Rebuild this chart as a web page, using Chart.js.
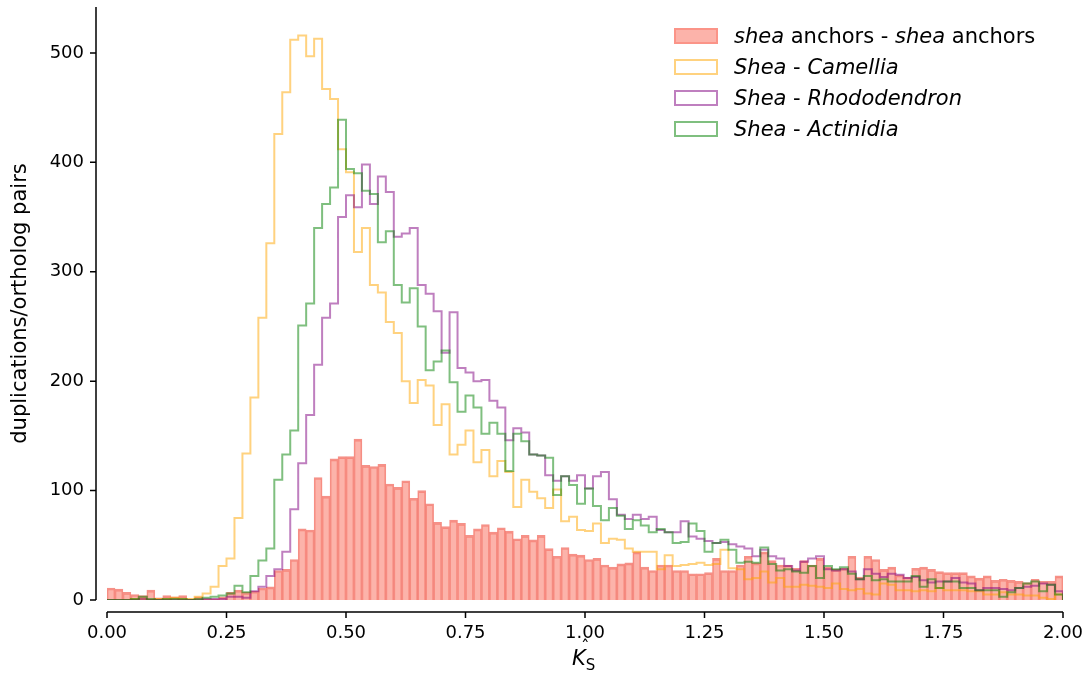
<!DOCTYPE html>
<html>
<head>
<meta charset="utf-8">
<title>Ks distribution</title>
<script src="https://cdn.jsdelivr.net/npm/chart.js@4.4.1/dist/chart.umd.min.js"></script>
<style>
  html, body { margin: 0; padding: 0; background: #fff; }
  #wrap { position: relative; width: 1089px; height: 687px; font-family: 'DejaVu Sans', sans-serif; color: #000; }
  #ksChart { position: absolute; left: 0; top: 0; }
  .legend { position: absolute; left: 674px; top: 20px; font-size: 21px; }
  .legend .row { display: flex; align-items: center; height: 31.2px; white-space: nowrap; }
  .legend .key { width: 44px; height: 16px; margin-right: 16px; box-sizing: border-box; border: 2px solid; background: #fff; }
  .xlabel { position: absolute; left: 572px; top: 646px; font-size: 21px; }
  .xlabel .k { font-style: italic; }
  .xlabel .s { font-size: 15px; position: relative; top: 5px; }
  .xlabel .hat { position: absolute; left: 9px; top: -9px; font-size: 17px; }
</style>
</head>
<body>
<div id="wrap">
  <canvas id="ksChart" width="1089" height="687"></canvas>
  <div class="legend">
    <div class="row"><span class="key" style="background: rgba(250,128,114,0.6); border-color: rgba(250,128,114,0.6);"></span><span><i>shea</i> anchors - <i>shea</i> anchors</span></div>
    <div class="row"><span class="key" style="border-color: rgba(255,165,0,0.5);"></span><span><i>Shea</i> - <i>Camellia</i></span></div>
    <div class="row"><span class="key" style="border-color: rgba(128,0,128,0.5);"></span><span><i>Shea</i> - <i>Rhododendron</i></span></div>
    <div class="row"><span class="key" style="border-color: rgba(0,128,0,0.5);"></span><span><i>Shea</i> - <i>Actinidia</i></span></div>
  </div>
  <div class="xlabel"><span class="k">K</span><span class="s">S</span><span class="hat">ˆ</span></div>
</div>
<script>
// Ks histogram, 120 bins over [0, 2]
const ksMax = 2;
const binCount = 120;
const binWidth = ksMax / binCount;

const xTicks = [0, 0.25, 0.5, 0.75, 1, 1.25, 1.5, 1.75, 2];
const yTicks = [0, 100, 200, 300, 400, 500];

// paralogous anchor pairs within shea
const anchors = [
  11, 10, 7, 5, 4, 9, 2, 4, 3, 4,
  1, 3, 1, 1, 3, 7, 9, 7, 8, 11,
  12, 27, 28, 37, 65, 64, 112, 95, 129, 131,
  131, 147, 123, 122, 124, 106, 103, 109, 93, 100,
  88, 71, 67, 73, 70, 59, 65, 69, 62, 66,
  63, 56, 59, 55, 59, 47, 40, 48, 42, 41,
  37, 38, 32, 30, 33, 34, 44, 30, 27, 32,
  32, 27, 27, 24, 24, 25, 38, 27, 27, 32,
  40, 34, 44, 36, 32, 32, 29, 36, 32, 38,
  30, 28, 29, 40, 21, 40, 37, 28, 30, 23,
  21, 29, 30, 28, 26, 25, 25, 25, 22, 20,
  22, 18, 19, 18, 17, 16, 19, 17, 17, 22
];

// orthologous pairs
const camellia = [
  0, 0, 0, 1, 1, 0, 1, 1, 2, 1,
  1, 3, 6, 12, 31, 38, 75, 134, 185, 258,
  326, 426, 464, 512, 516, 497, 513, 467, 458, 412,
  391, 318, 340, 288, 281, 254, 244, 200, 180, 201,
  196, 160, 179, 133, 142, 155, 126, 137, 113, 127,
  117, 85, 110, 99, 93, 84, 101, 72, 76, 64,
  63, 70, 52, 56, 55, 47, 44, 44, 44, 28,
  41, 31, 32, 33, 34, 32, 33, 46, 29, 28,
  19, 20, 26, 16, 20, 12, 12, 14, 13, 12,
  11, 15, 10, 9, 10, 6, 5, 15, 14, 9,
  9, 8, 9, 8, 11, 9, 9, 9, 8, 8,
  5, 5, 7, 5, 5, 4, 4, 2, 1, 5
];

const rhododendron = [
  0, 0, 0, 0, 1, 0, 0, 0, 0, 0,
  0, 0, 1, 1, 1, 3, 3, 2, 8, 12,
  22, 28, 44, 83, 125, 169, 215, 258, 271, 350,
  370, 359, 398, 362, 387, 373, 332, 335, 340, 288,
  280, 264, 226, 263, 212, 208, 200, 201, 182, 176,
  146, 157, 153, 133, 132, 114, 109, 113, 109, 114,
  102, 113, 117, 92, 78, 74, 78, 74, 76, 64,
  62, 62, 72, 58, 56, 54, 52, 53, 51, 49,
  47, 40, 46, 40, 38, 31, 27, 35, 38, 40,
  28, 27, 28, 26, 19, 28, 24, 21, 24, 23,
  20, 21, 18, 16, 17, 17, 20, 16, 15, 9,
  11, 11, 10, 9, 11, 12, 13, 15, 14, 8
];

const actinidia = [
  0, 0, 0, 1, 3, 1, 0, 1, 1, 1,
  0, 1, 2, 3, 4, 6, 13, 7, 22, 36,
  47, 110, 133, 155, 251, 271, 340, 362, 377, 439,
  394, 390, 374, 371, 327, 337, 288, 272, 285, 250,
  210, 218, 228, 199, 172, 187, 176, 152, 162, 152,
  118, 152, 145, 133, 132, 130, 96, 113, 105, 88,
  102, 86, 73, 84, 77, 65, 73, 68, 62, 65,
  62, 52, 53, 70, 63, 44, 52, 55, 46, 34,
  35, 34, 48, 33, 27, 28, 26, 25, 31, 20,
  31, 28, 30, 24, 19, 22, 18, 19, 17, 17,
  17, 22, 12, 19, 11, 17, 17, 11, 11, 9,
  9, 9, 3, 7, 11, 15, 17, 8, 14, 5
];

// bar at each bin centre
function barPoints(counts) {
  return counts.map((v, i) => ({ x: (i + 0.5) * binWidth, y: v }));
}

// outline of a step histogram: rise at 0, one step per bin, drop at ksMax
function stepPoints(counts) {
  const pts = [{ x: 0, y: 0 }];
  counts.forEach((v, i) => pts.push({ x: i * binWidth, y: v }));
  pts.push({ x: ksMax, y: counts[counts.length - 1] });
  pts.push({ x: ksMax, y: 0 });
  return pts;
}

function stepDataset(label, counts, color, order) {
  return {
    type: 'line',
    label: label,
    data: stepPoints(counts),
    // horizontal at the previous value, then vertical at the next bin edge
    stepped: 'before',
    borderColor: color,
    borderWidth: 2,
    pointRadius: 0,
    fill: false,
    order: order
  };
}

// matplotlib-style spines, pushed away from the data area
const offsetSpines = {
  id: 'offsetSpines',
  afterDraw(chart) {
    const { ctx, chartArea, scales } = chart;
    const sx = chartArea.left - 11;
    const sy = chartArea.bottom + 12;
    ctx.save();
    ctx.strokeStyle = '#000';
    ctx.lineWidth = 1.5;
    ctx.beginPath();
    ctx.moveTo(sx, chartArea.top);
    ctx.lineTo(sx, chartArea.bottom);
    ctx.moveTo(chartArea.left, sy);
    ctx.lineTo(chartArea.right, sy);
    yTicks.forEach(v => {
      const py = scales.y.getPixelForValue(v);
      ctx.moveTo(sx - 6, py);
      ctx.lineTo(sx, py);
    });
    xTicks.forEach(v => {
      const px = scales.x.getPixelForValue(v);
      ctx.moveTo(px, sy);
      ctx.lineTo(px, sy + 6);
    });
    ctx.stroke();
    ctx.restore();
  }
};

const ctx = document.getElementById('ksChart').getContext('2d');
new Chart(ctx, {
  type: 'bar',
  data: {
    datasets: [
      {
        type: 'bar',
        label: 'shea anchors - shea anchors',
        data: barPoints(anchors),
        backgroundColor: 'rgba(250,128,114,0.6)',
        borderColor: 'rgba(242,108,96,0.75)',
        borderWidth: { top: 2, left: 1, right: 1, bottom: 0 },
        borderSkipped: false,
        barPercentage: 1,
        categoryPercentage: 1,
        order: 4
      },
      stepDataset('Shea - Camellia', camellia, 'rgba(255,165,0,0.5)', 3),
      stepDataset('Shea - Rhododendron', rhododendron, 'rgba(128,0,128,0.5)', 2),
      stepDataset('Shea - Actinidia', actinidia, 'rgba(0,128,0,0.5)', 1)
    ]
  },
  options: {
    responsive: false,
    animation: false,
    devicePixelRatio: 1,
    layout: { padding: { top: 7, right: 26, left: 0, bottom: 0 } },
    plugins: {
      legend: { display: false },
      tooltip: { enabled: false }
    },
    scales: {
      x: {
        type: 'linear',
        min: 0,
        max: ksMax,
        offset: false,
        grid: { display: false, drawTicks: false },
        border: { display: false },
        afterBuildTicks: s => { s.ticks = xTicks.map(v => ({ value: v })); },
        afterFit: s => { s.height = 87; s.paddingLeft = 0; s.paddingRight = 0; },
        ticks: {
          padding: 23,
          color: '#000',
          font: { family: 'DejaVu Sans', size: 18 },
          maxRotation: 0,
          callback: v => v.toFixed(2)
        }
      },
      y: {
        min: 0,
        max: 542,
        grid: { display: false, drawTicks: false },
        border: { display: false },
        afterBuildTicks: s => { s.ticks = yTicks.map(v => ({ value: v })); },
        afterFit: s => { s.width = 107; s.paddingTop = 0; s.paddingBottom = 0; },
        ticks: {
          padding: 23,
          color: '#000',
          font: { family: 'DejaVu Sans', size: 18 }
        },
        title: {
          display: true,
          text: 'duplications/ortholog pairs',
          color: '#000',
          font: { family: 'DejaVu Sans', size: 21 },
          padding: { top: 8, bottom: 0 }
        }
      }
    }
  },
  plugins: [offsetSpines]
});
</script>
</body>
</html>
